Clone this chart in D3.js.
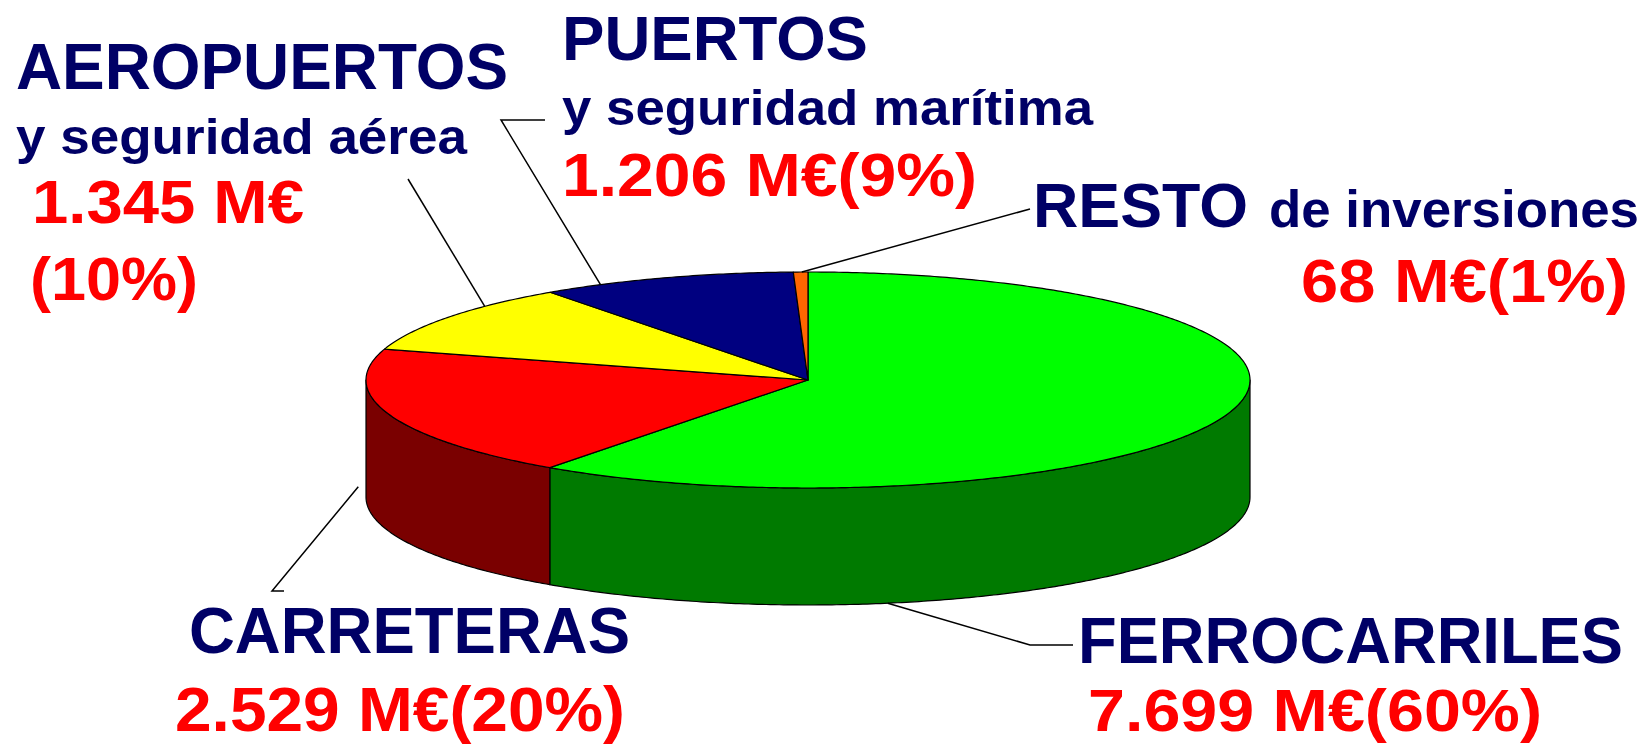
<!DOCTYPE html>
<meta charset="utf-8">
<head>
    <script src="https://d3js.org/d3.v7.min.js"></script>
    <style>
        body {
            margin: 0px;
            padding: 0px;
            background: #ffffff;
        }

        #chart text {
            font-family: 'Liberation Sans', Arial, sans-serif;
            font-weight: bold;
        }
    </style>
    <title>Inversiones</title>
</head>

<body>
    <div id="chart"></div>

    <script>
        // values in millions of euros, clockwise from 12 o'clock
        var categories = ["FERROCARRILES", "CARRETERAS", "AEROPUERTOS", "PUERTOS", "RESTO"];
        var subtitles = ["", "", "y seguridad aérea", "y seguridad marítima", "de inversiones"];
        var values = [7699, 2529, 1345, 1206, 68];
        var topColors = ["#00ff00", "#ff0000", "#ffff00", "#000080", "#ff6600"];
        var sideColors = ["#007a00", "#7a0000", "#808000", "#000050", "#a04000"];

        var W = 1645, H = 744;
        var cx = 808, cy = 380, rx = 442, ry = 108, depth = 117;

        var svg = d3.select("#chart").append("svg")
            .attr("width", W)
            .attr("height", H);

        var es = d3.formatLocale({ decimal: ",", thousands: ".", grouping: [3], currency: ["", " M€"] });
        var fmt = es.format(",.0f");
        var total = d3.sum(values);

        var pie = d3.pie().sort(null).value(function (d) { return d; });
        var arcs = pie(values);

        // projected point of the tilted pie, angle measured clockwise from top
        function pt(a, dz) {
            return [cx + rx * Math.sin(a), cy - ry * Math.cos(a) + (dz || 0)];
        }

        function arcPoints(a0, a1, dz) {
            var n = Math.max(2, Math.ceil(Math.abs(a1 - a0) / 0.01));
            return d3.range(n + 1).map(function (i) {
                return pt(a0 + (a1 - a0) * i / n, dz);
            });
        }

        var line = d3.line();

        // side walls, only the front half shows
        arcs.forEach(function (d, i) {
            var a0 = Math.max(d.startAngle, Math.PI / 2);
            var a1 = Math.min(d.endAngle, Math.PI * 3 / 2);
            if (a1 <= a0) return;
            var pts = arcPoints(a0, a1, 0).concat(arcPoints(a1, a0, depth));
            svg.append("path")
                .attr("d", line(pts) + "Z")
                .attr("fill", sideColors[i])
                .attr("stroke", "#000")
                .attr("stroke-width", 1.2)
                .attr("stroke-linejoin", "round");
        });

        // top faces
        arcs.forEach(function (d, i) {
            var pts = [[cx, cy]].concat(arcPoints(d.startAngle, d.endAngle, 0));
            svg.append("path")
                .attr("d", line(pts) + "Z")
                .attr("fill", topColors[i])
                .attr("stroke", "#000")
                .attr("stroke-width", 1.2)
                .attr("stroke-linejoin", "round");
        });

        // leader lines: start on the pie at an angle (deg), then elbows
        var leaders = [
            { angle: 169.6, dz: depth, push: 0, pts: [[1030, 645], [1073, 645]] },
            { angle: 268, dz: 103, push: 8, pts: [[272, 591], [284, 591]] },
            { angle: 313, dz: 0, push: 0, pts: [[408, 179]] },
            { angle: 332, dz: 0, push: 0, pts: [[501, 120], [545, 120]] },
            { angle: 359.2, dz: 0, push: 0, pts: [[1030, 209]] }
        ];

        leaders.forEach(function (l) {
            var a = l.angle * Math.PI / 180;
            var p = pt(a, l.dz);
            p[0] += l.push * Math.sin(a);
            svg.append("path")
                .attr("d", line([p].concat(l.pts)))
                .attr("fill", "none")
                .attr("stroke", "#000")
                .attr("stroke-width", 1.5);
        });

        // label layout: [x, baseline, size, width]
        var navy = "#000066", red = "#ff0000";
        var titlePos = [[1078, 663, 64, 545], [189, 653, 64, 441], [16, 89, 64, 492], [562, 60, 63, 306], [1033, 227, 63, 215]];
        var subPos = [null, null, [16, 154, 50, 451], [562, 125, 50, 531], [1269, 227, 52, 370]];

        function addText(str, pos, color) {
            svg.append("text")
                .attr("x", pos[0])
                .attr("y", pos[1])
                .attr("font-size", pos[2])
                .attr("fill", color)
                .attr("textLength", pos[3])
                .attr("lengthAdjust", "spacingAndGlyphs")
                .text(str);
        }

        categories.forEach(function (c, i) {
            addText(c, titlePos[i], navy);
            if (subPos[i]) addText(subtitles[i], subPos[i], navy);
        });

        function pct(v) {
            return "(" + Math.round(v / total * 100) + "%)";
        }

        // value labels
        addText(fmt(values[0]) + " M€" + pct(values[0]), [1088, 731, 60, 454], red);
        addText(fmt(values[1]) + " M€" + pct(values[1]), [175, 731, 63, 450], red);
        addText(fmt(values[2]) + " M€", [32, 223, 62, 272], red);
        addText(pct(values[2]), [30, 300, 62, 168], red);
        addText(fmt(values[3]) + " M€" + pct(values[3]), [562, 196, 62, 415], red);
        addText(fmt(values[4]) + " M€" + pct(values[4]), [1301, 302, 62, 327], red);
    </script>

</body>
